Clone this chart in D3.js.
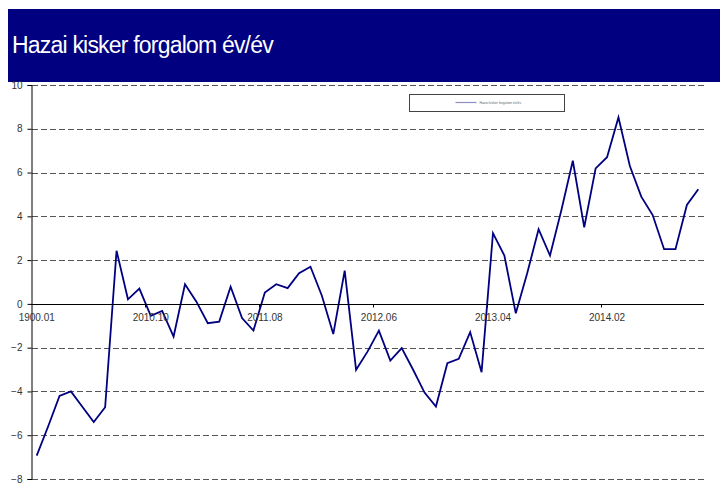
<!DOCTYPE html>
<html lang="hu">
<head>
<meta charset="utf-8">
<title>Hazai kisker forgalom év/év</title>
<script src="https://d3js.org/d3.v7.min.js"></script>
<style>
  body { margin: 0; background: #fff; font-family: "Liberation Sans", Arial, sans-serif; }
  svg { display: block; }
</style>
</head>
<body>
<div id="chart"></div>
<script>
// monthly categories, 2009.12 - 2014.10 (first label shows as 1900.01 in the original)
var months = [];
for (var y = 2009; y <= 2014; y++) {
  for (var m = 1; m <= 12; m++) {
    if ((y === 2009 && m < 12) || (y === 2014 && m > 10)) continue;
    months.push(y + "." + (m < 10 ? "0" + m : m));
  }
}
var firstLabel = "1900.01";

// retail sales, year-on-year %
var values = [
  -6.93, -5.6, -4.2, -4.0, -4.7, -5.4, -4.72, 2.43, 0.21, 0.70,
  -0.55, -0.32, -1.49, 0.9, 0.1, -0.88, -0.81, 0.78, -0.65, -1.22,
  0.52, 0.90, 0.72, 1.40, 1.70, 0.37, -1.38, 1.52, -3.01, -2.18,
  -1.22, -2.59, -2.02, -3.01, -4.05, -4.69, -2.71, -2.51, -1.29, -3.12,
  3.23, 2.21, -0.43, 1.40, 3.41, 2.21, 4.29, 6.54, 3.50, 6.19,
  6.70, 8.52, 6.30, 4.90, 4.06, 2.50, 2.50, 4.52, 5.24
];

var yTicks = [-8, -6, -4, -2, 0, 2, 4, 6, 8, 10];
var seriesName = "Hazai kisker forgalom év/év";
var title = "Hazai kisker forgalom év/év";

var W = 720, H = 483;
var svg = d3.select("#chart").append("svg")
  .attr("width", W)
  .attr("height", H);

// title banner
svg.append("rect")
  .attr("x", 8).attr("y", 9)
  .attr("width", W - 8).attr("height", 73)
  .attr("fill", "#000080");
svg.append("text")
  .attr("x", 12).attr("y", 53)
  .attr("fill", "#fff")
  .style("font-size", "23px")
  .style("letter-spacing", "-0.8px")
  .text(title);

// scales
var x = d3.scaleBand()
  .domain(months)
  .range([31, 704])
  .padding(0);

var yScale = d3.scaleLinear()
  .domain([-8, 10])
  .range([479, 85]);

var cx = function(d) { return x(d) + x.bandwidth() / 2; };

// gridlines
svg.append("g")
  .selectAll("line")
  .data(yTicks.filter(function(t) { return t !== 0; }))
  .enter().append("line")
  .attr("x1", 32).attr("x2", 704)
  .attr("y1", function(d) { return Math.round(yScale(d)) + 0.5; })
  .attr("y2", function(d) { return Math.round(yScale(d)) + 0.5; })
  .attr("stroke", "#555")
  .attr("stroke-width", 1)
  .attr("stroke-dasharray", "6,3");

// y axis
var yAxis = svg.append("g")
  .attr("transform", "translate(31.5,0)")
  .call(d3.axisLeft(yScale).tickValues(yTicks).tickSize(4).tickPadding(5)
    .tickFormat(d3.format("d")));
yAxis.select(".domain").attr("stroke", "#000");
yAxis.selectAll(".tick line").attr("stroke", "#000");
yAxis.selectAll(".tick text")
  .attr("fill", "#333")
  .style("font-family", "'Liberation Sans', Arial, sans-serif")
  .style("font-size", "10px");

// data line
var line = d3.line()
  .x(function(d, i) { return cx(months[i]); })
  .y(function(d) { return yScale(d); });

svg.append("path")
  .datum(values)
  .attr("d", line)
  .attr("fill", "none")
  .attr("stroke", "#000080")
  .attr("stroke-width", 1.8)
  .attr("stroke-linejoin", "miter");

// x axis on zero line
var y0 = Math.round(yScale(0)) + 0.5;
svg.append("line")
  .attr("x1", 31).attr("x2", 704)
  .attr("y1", y0).attr("y2", y0)
  .attr("stroke", "#000")
  .attr("stroke-width", 1);

var labelled = months.filter(function(d, i) { return i % 10 === 0; });

svg.append("g")
  .selectAll("line")
  .data(labelled.slice(1))
  .enter().append("line")
  .attr("x1", function(d) { return Math.round(x(d)) + 0.5; })
  .attr("x2", function(d) { return Math.round(x(d)) + 0.5; })
  .attr("y1", y0).attr("y2", y0 + 3)
  .attr("stroke", "#000");

svg.append("g")
  .selectAll("text")
  .data(labelled)
  .enter().append("text")
  .attr("x", function(d) { return cx(d); })
  .attr("y", y0 + 16)
  .attr("text-anchor", "middle")
  .attr("fill", "#333")
  .style("font-size", "10px")
  .text(function(d, i) { return i === 0 ? firstLabel : d; });

// legend
var lg = svg.append("g").attr("transform", "translate(409.5,94.5)");
lg.append("rect")
  .attr("width", 155).attr("height", 17)
  .attr("fill", "#fff")
  .attr("stroke", "#444")
  .attr("stroke-width", 1);
lg.append("line")
  .attr("x1", 46).attr("x2", 67)
  .attr("y1", 8).attr("y2", 8)
  .attr("stroke", "#000080")
  .attr("stroke-opacity", 0.45)
  .attr("stroke-width", 1.2);
lg.append("text")
  .attr("x", 70).attr("y", 9.5)
  .attr("fill", "#666")
  .style("font-size", "3.4px")
  .text(seriesName);
</script>
</body>
</html>
